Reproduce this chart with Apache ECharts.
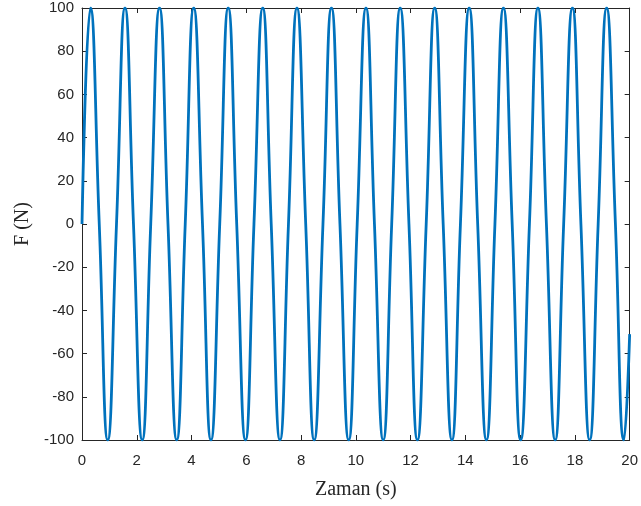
<!DOCTYPE html>
<html>
<head>
<meta charset="utf-8">
<script src="https://cdn.jsdelivr.net/npm/echarts@6/dist/echarts.min.js"></script>
<style>
  html, body { margin: 0; padding: 0; background: #fff; }
  #main { width: 641px; height: 506px; }
</style>
</head>
<body>
<div id="main"></div>
<script>
// time (s) of each zero crossing / peak / trough
var time = [
  0, 0.31, 0.63, 0.94, 1.26, 1.57, 1.88, 2.2, 2.51, 2.83, 3.14, 3.46, 3.77, 4.08, 4.4, 4.71,
  5.03, 5.34, 5.65, 5.97, 6.28, 6.6, 6.91, 7.23, 7.54, 7.85, 8.17, 8.48, 8.8, 9.11, 9.42, 9.74,
  10.05, 10.37, 10.68, 11.0, 11.31, 11.62, 11.94, 12.25, 12.57, 12.88, 13.19, 13.51, 13.82, 14.14, 14.45, 14.77,
  15.08, 15.39, 15.71, 16.02, 16.34, 16.65, 16.96, 17.28, 17.59, 17.91, 18.22, 18.54, 18.85, 19.16, 19.48, 19.79,
  20
];
// force (N) at those times
var force = [
  0, 100, 0, -100, 0, 100, 0, -100, 0, 100, 0, -100, 0, 100, 0, -100,
  0, 100, 0, -100, 0, 100, 0, -100, 0, 100, 0, -100, 0, 100, 0, -100,
  0, 100, 0, -100, 0, 100, 0, -100, 0, 100, 0, -100, 0, 100, 0, -100,
  0, 100, 0, -100, 0, 100, 0, -100, 0, 100, 0, -100, 0, 100, 0, -100,
  -51
];
var xTicks = [0, 2, 4, 6, 8, 10, 12, 14, 16, 18, 20];
var yTicks = [-100, -80, -60, -40, -20, 0, 20, 40, 60, 80, 100];

var chart = echarts.init(document.getElementById('main'), null, { renderer: 'canvas' });

var axisColor = '#262626';
var points = time.map(function (t, i) { return [t, force[i]]; });

function xAxisOpt(pos, showLabel) {
  return {
    type: 'value',
    position: pos,
    min: xTicks[0],
    max: xTicks[xTicks.length - 1],
    interval: xTicks[1] - xTicks[0],
    axisLine: { show: true, onZero: false, lineStyle: { color: axisColor, width: 1 } },
    axisTick: { show: true, inside: true, length: 5, lineStyle: { color: axisColor } },
    axisLabel: {
      show: showLabel, color: axisColor, fontSize: 15,
      fontFamily: 'Liberation Sans, Arial, sans-serif', margin: 13
    },
    splitLine: { show: false }
  };
}
function yAxisOpt(pos, showLabel) {
  return {
    type: 'value',
    position: pos,
    min: yTicks[0],
    max: yTicks[yTicks.length - 1],
    interval: yTicks[1] - yTicks[0],
    axisLine: { show: true, onZero: false, lineStyle: { color: axisColor, width: 1 } },
    axisTick: { show: true, inside: true, length: 5, lineStyle: { color: axisColor } },
    axisLabel: {
      show: showLabel, color: axisColor, fontSize: 15,
      fontFamily: 'Liberation Sans, Arial, sans-serif', margin: 8
    },
    splitLine: { show: false }
  };
}

var xMain = xAxisOpt('bottom', true);
xMain.name = 'Zaman (s)';
xMain.nameLocation = 'middle';
xMain.nameGap = 40;
xMain.nameTextStyle = { fontFamily: 'Liberation Serif, Times New Roman, serif', fontSize: 20, color: axisColor };

var yMain = yAxisOpt('left', true);
yMain.name = 'F (N)';
yMain.nameLocation = 'middle';
yMain.nameGap = 43;
yMain.nameTextStyle = { fontFamily: 'Liberation Serif, Times New Roman, serif', fontSize: 20, color: axisColor };

var option = {
  backgroundColor: '#ffffff',
  animation: false,
  grid: { left: 82, right: 11, top: 8, bottom: 66, containLabel: false },
  xAxis: [xMain, xAxisOpt('top', false)],
  yAxis: [yMain, yAxisOpt('right', false)],
  series: [{
    type: 'line',
    xAxisIndex: 0,
    yAxisIndex: 0,
    data: points,
    smooth: 0.5,
    showSymbol: false,
    clip: true,
    lineStyle: { color: '#0072BD', width: 2.8 }
  }]
};
chart.setOption(option);
</script>
</body>
</html>
